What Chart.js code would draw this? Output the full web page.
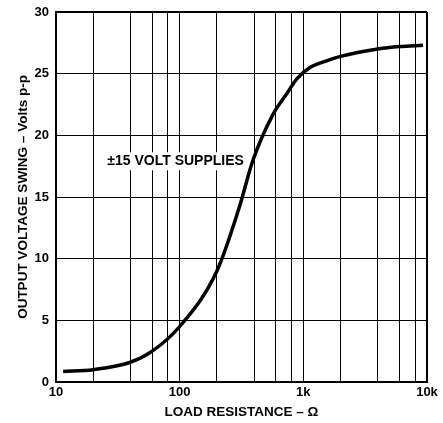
<!DOCTYPE html>
<html>
<head>
<meta charset="utf-8">
<script src="https://cdn.jsdelivr.net/npm/chart.js@4.4.1/dist/chart.umd.min.js"></script>
<style>
html, body { margin: 0; padding: 0; background: #fff; }
#wrap { width: 443px; height: 423px; }
</style>
</head>
<body>
<div id="wrap"><canvas id="myChart"></canvas></div>
<script>
// load resistance (ohms) and output swing (V p-p)
var loadOhms = [11.4, 20, 40, 60, 100, 200, 300, 392, 569, 738, 889, 1133, 1500, 2000, 4000, 6000, 9300]
var swingVpp = [0.85, 1.0, 1.6, 2.5, 4.5, 9.0, 14.0, 18.0, 21.7, 23.4, 24.6, 25.5, 26.0, 26.4, 27.0, 27.2, 27.3]

var xGrid = [10, 20, 40, 60, 80, 100, 200, 400, 600, 800, 1000, 2000, 4000, 6000, 8000, 10000]
var xLabels = {10: '10', 100: '100', 1000: '1k', 10000: '10k'}
var yTicks = [0, 5, 10, 15, 20, 25, 30]

var noteText = '\u00b115 VOLT SUPPLIES'
var notePos = [26, 17.9]

var pts = []
for (let i = 0; i < loadOhms.length; i++) {
    pts.push({x: loadOhms[i], y: swingVpp[i]})
}

var fontFam = '"Liberation Sans", Arial, sans-serif'

var notePlugin = {
    id: 'note',
    beforeDatasetsDraw: function(chart) {
        var ctx = chart.ctx
        var x = chart.scales.x.getPixelForValue(notePos[0])
        var y = chart.scales.y.getPixelForValue(notePos[1])
        ctx.save()
        ctx.font = 'bold 14px ' + fontFam
        var w = ctx.measureText(noteText).width
        ctx.fillStyle = '#fff'
        ctx.fillRect(x - 4, y - 9, w + 8, 18)
        ctx.fillStyle = '#000'
        ctx.textAlign = 'left'
        ctx.textBaseline = 'middle'
        ctx.fillText(noteText, x, y)
        ctx.restore()
    }
}

var ctx = document.getElementById('myChart').getContext('2d');
var myChart = new Chart(ctx, {
    type: 'line',
    data: {
        datasets: [{
            label: 'swing',
            data: pts,
            borderColor: '#000',
            borderWidth: 3.5,
            pointRadius: 0,
            fill: false,
            cubicInterpolationMode: 'monotone'
        }]
    },
    plugins: [notePlugin],
    options: {
        responsive: true,
        maintainAspectRatio: false,
        animation: false,
        layout: {
            padding: {top: 12, right: 16, left: 0, bottom: 0}
        },
        plugins: {
            legend: {display: false},
            tooltip: {enabled: false}
        },
        scales: {
            x: {
                type: 'logarithmic',
                min: 10,
                max: 10000,
                afterBuildTicks: function(s) {
                    s.ticks = xGrid.map(function(v) { return {value: v} })
                },
                afterFit: function(s) {
                    s.height = 41
                },
                ticks: {
                    autoSkip: false,
                    maxRotation: 0,
                    padding: 3,
                    color: '#000',
                    font: {family: fontFam, size: 13, weight: 'bold'},
                    callback: function(v) { return xLabels[v] || '' }
                },
                grid: {
                    color: '#000',
                    lineWidth: function(c) { return c.tick && c.tick.value === 10000 ? 2 : 1 },
                    drawTicks: false
                },
                border: {color: '#000', width: 2},
                title: {
                    display: true,
                    text: 'LOAD RESISTANCE \u2013 \u03a9',
                    color: '#000',
                    font: {family: fontFam, size: 13.5, weight: 'bold'},
                    padding: {top: 4, bottom: 3}
                }
            },
            y: {
                min: 0,
                max: 30,
                afterBuildTicks: function(s) {
                    s.ticks = yTicks.map(function(v) { return {value: v} })
                },
                afterFit: function(s) {
                    s.width = 56
                    s.paddingTop = 0
                    s.paddingBottom = 0
                },
                ticks: {
                    padding: 7,
                    color: '#000',
                    font: {family: fontFam, size: 13, weight: 'bold'}
                },
                grid: {
                    color: '#000',
                    lineWidth: function(c) { return c.tick && c.tick.value === 30 ? 2 : 1 },
                    drawTicks: false
                },
                border: {color: '#000', width: 2},
                title: {
                    display: true,
                    text: 'OUTPUT VOLTAGE SWING \u2013 Volts p-p',
                    color: '#000',
                    font: {family: fontFam, size: 13.5, weight: 'bold'},
                    padding: {top: 15, bottom: 4}
                }
            }
        }
    }
});
</script>
</body>
</html>
